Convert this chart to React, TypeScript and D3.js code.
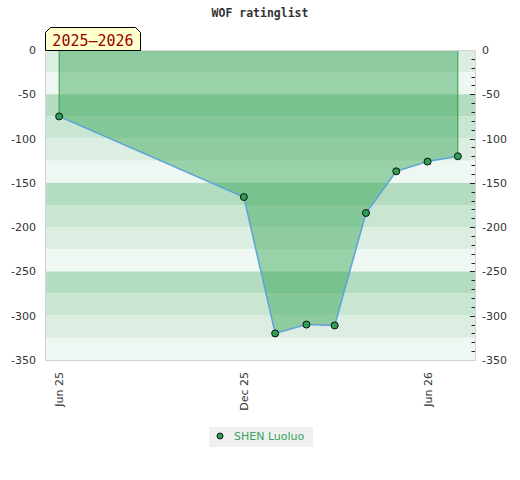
import { useRef, useEffect } from "react";
import * as d3 from "d3";

// Rating points (first of each month) and values
const dates = [
    "2025-06-01",
    "2025-12-01",
    "2026-01-01",
    "2026-02-01",
    "2026-03-01",
    "2026-04-01",
    "2026-05-01",
    "2026-06-01",
    "2026-07-01",
];
const ratings = [-75, -166, -320, -310, -311, -184, -137, -126, -120];
const tickDates = ["2025-06-01", "2025-12-01", "2026-06-01"];
const yTicks = [0, -50, -100, -150, -200, -250, -300, -350];
const bandColors = ["#dcede2", "#eef7f1", "#b3dcc0", "#c9e6d3"];
const seriesName = "SHEN Luoluo";
const seasonLabel = "2025\u20132026";
const title = "WOF ratinglist";

export default function App() {
    const ref = useRef<SVGSVGElement>(null);

    useEffect(() => {
        if (!ref.current) return;
        const width = 520;
        const height = 480;
        const marginTop = 50;
        const marginRight = 45;
        const marginBottom = 120;
        const marginLeft = 45;

        const parse = d3.utcParse("%Y-%m-%d");
        const data = dates.map((d, i) => ({ date: parse(d)!, value: ratings[i] }));

        const x = d3
            .scaleUtc()
            .domain([new Date(Date.UTC(2025, 4, 18)), new Date(Date.UTC(2026, 6, 18))])
            .range([marginLeft, width - marginRight]);

        const y = d3
            .scaleLinear()
            .domain([0, -350])
            .range([marginTop, height - marginBottom]);

        const svg = d3.select(ref.current);
        svg.selectAll("*").remove();
        svg.attr("width", width).attr("height", height);

        const font = "'DejaVu Sans', sans-serif";
        const mono = "'DejaVu Sans Mono', monospace";

        // Title
        svg.append("text")
            .attr("x", width / 2)
            .attr("y", 17)
            .attr("text-anchor", "middle")
            .attr("font-family", mono)
            .attr("font-weight", "bold")
            .attr("font-size", 11.5)
            .attr("fill", "#333")
            .text(title);

        // Background bands every 25
        const bands = d3.range(0, 14).map((i) => -25 * i);
        svg.append("g")
            .selectAll("rect")
            .data(bands)
            .join("rect")
            .attr("x", marginLeft)
            .attr("width", width - marginRight - marginLeft)
            .attr("y", (d) => y(d))
            .attr("height", (d) => y(d - 25) - y(d))
            .attr("fill", (_, i) => bandColors[i % 4]);

        // Filled area between 0 and the rating line
        const area = d3
            .area<{ date: Date; value: number }>()
            .x((d) => x(d.date))
            .y0(y(0))
            .y1((d) => y(d.value));
        svg.append("path")
            .datum(data)
            .attr("d", area)
            .attr("fill", "#31a14f")
            .attr("fill-opacity", 0.45);

        // Vertical edges at first and last point
        const first = data[0];
        const last = data[data.length - 1];
        svg.append("g")
            .selectAll("line")
            .data([first, last])
            .join("line")
            .attr("x1", (d) => x(d.date))
            .attr("x2", (d) => x(d.date))
            .attr("y1", y(0))
            .attr("y2", (d) => y(d.value))
            .attr("stroke", "#2e9e4a")
            .attr("stroke-width", 1);

        // Plot border
        svg.append("rect")
            .attr("x", marginLeft + 0.5)
            .attr("y", marginTop + 0.5)
            .attr("width", width - marginRight - marginLeft)
            .attr("height", height - marginBottom - marginTop)
            .attr("fill", "none")
            .attr("stroke", "#d4d4d4");

        // Line
        const line = d3
            .line<{ date: Date; value: number }>()
            .x((d) => x(d.date))
            .y((d) => y(d.value));
        svg.append("path")
            .datum(data)
            .attr("d", line)
            .attr("fill", "none")
            .attr("stroke", "#5ba3db")
            .attr("stroke-width", 1.5);

        // Points
        svg.append("g")
            .selectAll("circle")
            .data(data)
            .join("circle")
            .attr("cx", (d) => x(d.date))
            .attr("cy", (d) => y(d.value))
            .attr("r", 3.5)
            .attr("fill", "#2f9e55")
            .attr("stroke", "#111")
            .attr("stroke-width", 1);

        // Right-side minor/major ticks
        const rx = width - marginRight;
        svg.append("g")
            .selectAll("line")
            .data(d3.range(-10, -350, -10))
            .join("line")
            .attr("x1", (d) => (d % 50 === 0 ? rx - 5 : rx - 3.5))
            .attr("x2", rx)
            .attr("y1", (d) => Math.round(y(d)) + 0.5)
            .attr("y2", (d) => Math.round(y(d)) + 0.5)
            .attr("stroke", "#222")
            .attr("stroke-width", 1);

        // Y labels both sides
        const yl = svg.append("g")
            .attr("font-family", font)
            .attr("font-size", 11)
            .attr("fill", "#333");
        yl.selectAll("text.l")
            .data(yTicks)
            .join("text")
            .attr("class", "l")
            .attr("x", 36)
            .attr("y", (d) => y(d) + 4)
            .attr("text-anchor", "end")
            .text((d) => d);
        yl.selectAll("text.r")
            .data(yTicks)
            .join("text")
            .attr("class", "r")
            .attr("x", 482)
            .attr("y", (d) => y(d) + 4)
            .attr("text-anchor", "start")
            .text((d) => d);

        // X labels rotated
        const fmt = d3.utcFormat("%b %y");
        svg.append("g")
            .selectAll("text")
            .data(tickDates.map((d) => parse(d)!))
            .join("text")
            .attr("transform", (d) => `translate(${x(d) + 4},${height - marginBottom + 12}) rotate(-90)`)
            .attr("text-anchor", "end")
            .attr("font-family", font)
            .attr("font-size", 11)
            .attr("fill", "#333")
            .text((d) => fmt(d));

        // Season label box with clipped top corners
        const bx = 45.5, by = 27.5, bw = 95, bh = 23, c = 5;
        svg.append("path")
            .attr("d", `M${bx},${by + bh}V${by + c}L${bx + c},${by}H${bx + bw - c}L${bx + bw},${by + c}V${by + bh}Z`)
            .attr("fill", "#ffffcc")
            .attr("stroke", "#000")
            .attr("stroke-width", 1);
        svg.append("text")
            .attr("x", bx + bw / 2)
            .attr("y", 45.5)
            .attr("text-anchor", "middle")
            .attr("font-family", mono)
            .attr("font-size", 15)
            .attr("fill", "#990000")
            .text(seasonLabel);

        // Legend
        const lg = svg.append("g");
        lg.append("rect")
            .attr("x", 209)
            .attr("y", 427)
            .attr("width", 104)
            .attr("height", 20)
            .attr("fill", "#f0f0f0");
        lg.append("circle")
            .attr("cx", 220)
            .attr("cy", 436)
            .attr("r", 3)
            .attr("fill", "#2f9e55")
            .attr("stroke", "#111");
        lg.append("text")
            .attr("x", 234)
            .attr("y", 440)
            .attr("font-family", font)
            .attr("font-size", 11)
            .attr("fill", "#3aa55a")
            .text(seriesName);
    });

    return (
        <svg ref={ref} style={{ position: "absolute", left: 0, top: 0 }}></svg>
    );
}
